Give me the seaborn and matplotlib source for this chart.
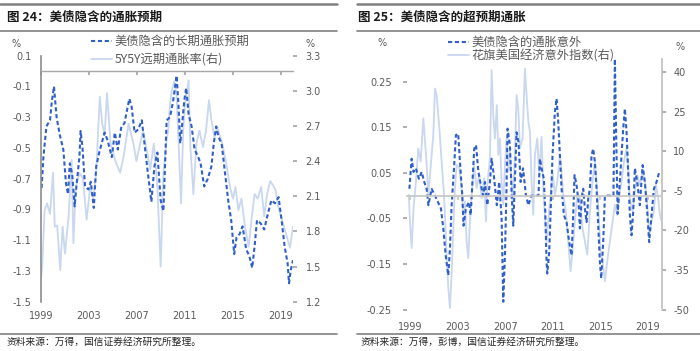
import matplotlib
matplotlib.use("Agg")
import matplotlib.pyplot as plt
import seaborn as sns
import pandas as pd
from matplotlib.lines import Line2D

# ---------------- data ----------------
# Chart 24: implied long-term inflation expectation (left) and 5Y5Y forward (right)
be_t = [1999.05, 1999.2, 1999.45, 1999.75, 1999.9, 2000.08, 2000.3, 2000.55, 2000.86, 2001.08,
        2001.25, 2001.4, 2001.6, 2001.8, 2001.95, 2002.2, 2002.3, 2002.45, 2002.67, 2002.95,
        2003.15, 2003.4, 2003.6, 2003.85, 2004.3, 2004.55, 2004.9, 2005.15, 2005.4, 2005.7,
        2005.95, 2006.36, 2006.55, 2006.8, 2007.1, 2007.4, 2007.65, 2007.9, 2008.2, 2008.45,
        2008.7, 2008.97, 2009.2, 2009.47, 2009.75, 2010.0, 2010.3, 2010.45, 2010.6, 2010.75,
        2010.94, 2011.1, 2011.3, 2011.55, 2011.8, 2012.1, 2012.3, 2012.6, 2012.9, 2013.2,
        2013.4, 2013.6, 2013.8, 2014.05, 2014.3, 2014.6, 2014.85, 2015.1, 2015.3, 2015.55,
        2015.8, 2016.1, 2016.35, 2016.6, 2016.8, 2017.0, 2017.3, 2017.6, 2017.9, 2018.2,
        2018.5, 2018.8, 2019.05, 2019.3, 2019.55, 2019.67, 2019.8, 2020.0]
be_v = [-0.76, -0.56, -0.36, -0.32, -0.20, -0.10, -0.30, -0.41, -0.51, -0.73,
        -0.80, -0.60, -0.67, -0.88, -0.75, -0.56, -0.39, -0.49, -0.75, -0.77,
        -0.72, -0.89, -0.62, -0.53, -0.40, -0.45, -0.56, -0.40, -0.51, -0.36,
        -0.34, -0.18, -0.23, -0.40, -0.38, -0.32, -0.49, -0.66, -0.85, -0.62,
        -0.53, -0.84, -0.91, -0.32, -0.30, -0.20, -0.03, -0.21, -0.47, -0.36,
        -0.19, -0.11, -0.28, -0.36, -0.51, -0.56, -0.60, -0.75, -0.70, -0.62,
        -0.47, -0.36, -0.43, -0.47, -0.64, -0.84, -0.97, -1.19, -1.08, -1.06,
        -1.01, -1.16, -1.20, -1.28, -1.14, -0.97, -0.99, -1.03, -0.93, -0.84,
        -0.86, -0.82, -0.97, -1.14, -1.25, -1.38, -1.30, -1.23]
fw_t = [1999.0, 1999.1, 1999.3, 1999.5, 1999.75, 2000.0, 2000.15, 2000.35, 2000.6, 2000.8,
        2001.0, 2001.3, 2001.55, 2001.7, 2001.9, 2002.2, 2002.5, 2002.8, 2003.1, 2003.35,
        2003.6, 2003.9, 2004.1, 2004.3, 2004.5, 2004.8, 2005.2, 2005.6, 2005.9, 2006.3,
        2006.7, 2006.95, 2007.2, 2007.5, 2007.8, 2008.1, 2008.4, 2008.7, 2008.97, 2009.2,
        2009.47, 2009.6, 2009.75, 2009.9, 2010.1, 2010.3, 2010.5, 2010.67, 2010.85, 2011.0,
        2011.3, 2011.45, 2011.7, 2011.95, 2012.2, 2012.5, 2012.75, 2013.0, 2013.2, 2013.45,
        2013.7, 2014.1, 2014.4, 2014.75, 2015.0, 2015.2, 2015.45, 2015.7, 2016.0, 2016.3,
        2016.55, 2016.8, 2017.05, 2017.35, 2017.6, 2017.85, 2018.1, 2018.3, 2018.55, 2018.75,
        2019.05, 2019.5, 2019.75, 2020.0]
fw_v = [1.40, 1.50, 1.98, 2.04, 1.95, 2.30, 1.84, 1.85, 1.47, 1.84,
        1.61, 1.93, 2.41, 1.70, 2.18, 2.30, 2.25, 1.90, 2.18, 2.08,
        2.30, 2.95, 2.72, 2.62, 2.98, 2.55, 2.40, 2.30, 2.45, 2.72,
        2.55, 2.40, 2.52, 2.66, 2.50, 2.33, 2.55, 2.18, 1.50, 2.30,
        2.58, 2.66, 2.89, 3.00, 3.08, 2.96, 2.47, 2.04, 2.66, 2.89,
        3.09, 2.52, 2.12, 2.55, 2.66, 2.52, 2.66, 2.92, 2.75, 2.60,
        2.69, 2.55, 2.40, 2.18, 2.08, 2.18, 1.98, 2.08, 1.84, 1.67,
        1.91, 2.12, 2.08, 2.18, 1.93, 2.12, 2.23, 2.20, 2.15, 2.02,
        1.91, 1.75, 1.66, 1.84]

# Chart 25: implied inflation surprise (left) and Citi US economic surprise index (right)
sp_t = [1998.95, 1999.14, 1999.3, 1999.5, 1999.75, 1999.98, 2000.2, 2000.4, 2000.55, 2000.82,
        2001.1, 2001.35, 2001.6, 2001.8, 2002.0, 2002.22, 2002.36, 2002.5, 2002.7, 2002.86,
        2003.05, 2003.2, 2003.4, 2003.5, 2003.7, 2003.95, 2004.1, 2004.4, 2004.55, 2004.75,
        2004.96, 2005.15, 2005.3, 2005.5, 2005.72, 2005.86, 2006.05, 2006.3, 2006.5, 2006.7,
        2006.84, 2006.98, 2007.1, 2007.2, 2007.4, 2007.55, 2007.68, 2007.96, 2008.12, 2008.3,
        2008.5, 2008.75, 2008.95, 2009.2, 2009.5, 2009.8, 2009.92, 2010.06, 2010.25, 2010.37,
        2010.48, 2010.54, 2010.7, 2010.82, 2010.98, 2011.18, 2011.32, 2011.46, 2011.6, 2011.74,
        2011.94, 2012.16, 2012.38, 2012.58, 2012.72, 2012.83, 2013.0, 2013.17, 2013.28, 2013.45,
        2013.56, 2013.7, 2013.84, 2013.98, 2014.12, 2014.26, 2014.4, 2014.54, 2014.68, 2014.82,
        2014.96, 2015.07, 2015.24, 2015.38, 2015.7, 2016.1, 2016.22, 2016.35, 2016.45, 2016.6,
        2016.92, 2017.06, 2017.2, 2017.34, 2017.48, 2017.62, 2017.76, 2017.9, 2018.1, 2018.32,
        2018.55, 2018.74, 2018.94, 2019.1, 2019.3, 2019.5, 2019.72, 2019.95]
sp_v = [0.015, 0.081, 0.052, 0.060, 0.037, 0.052, 0.030, 0.015, -0.021, 0.015,
        0.000, -0.014, -0.028, -0.072, -0.131, -0.175, -0.116, -0.021, 0.060, 0.133,
        0.136, 0.074, 0.000, -0.066, -0.028, -0.014, -0.043, 0.103, 0.111, 0.052,
        0.023, 0.000, 0.030, -0.021, 0.030, 0.081, 0.044, -0.021, 0.030, -0.050,
        -0.233, -0.131, 0.000, 0.147, 0.111, 0.000, -0.066, 0.139, 0.118, 0.030,
        0.060, 0.000, -0.021, 0.000, 0.000, 0.000, 0.081, 0.060, 0.037, -0.036,
        -0.146, -0.171, -0.124, -0.036, 0.089, 0.184, 0.213, 0.162, 0.089, 0.015,
        -0.043, -0.058, -0.102, -0.131, -0.043, 0.045, 0.023, -0.014, -0.072, 0.000,
        0.015, -0.028, -0.058, -0.007, 0.015, 0.089, 0.103, 0.074, 0.015, -0.065,
        -0.146, -0.182, -0.102, 0.000, 0.000, 0.000, 0.300, 0.100, -0.040, 0.015,
        0.147, 0.191, 0.140, 0.052, -0.043, -0.087, -0.036, 0.060, 0.030, -0.021,
        0.067, 0.030, -0.036, -0.102, -0.043, 0.015, 0.030, 0.052]
cs_t = [1998.9, 1999.0, 1999.14, 1999.3, 1999.5, 1999.7, 1999.9, 2000.12, 2000.35, 2000.55,
        2000.82, 2000.96, 2001.1, 2001.24, 2001.47, 2001.66, 2001.86, 2002.08, 2002.22, 2002.36,
        2002.5, 2002.64, 2002.78, 2002.92, 2003.15, 2003.34, 2003.48, 2003.62, 2003.76, 2003.9,
        2004.04, 2004.18, 2004.38, 2004.6, 2004.83, 2005.02, 2005.22, 2005.39, 2005.5, 2005.72,
        2005.86, 2006.0, 2006.14, 2006.3, 2006.42, 2006.56, 2006.7, 2006.84, 2006.98, 2007.12,
        2007.26, 2007.4, 2007.62, 2007.82, 2007.96, 2008.1, 2008.24, 2008.46, 2008.66, 2008.8,
        2008.95, 2009.08, 2009.22, 2009.36, 2009.5, 2009.7, 2009.86, 2010.06, 2010.2, 2010.34,
        2010.48, 2010.62, 2010.82, 2010.98, 2011.18, 2011.38, 2011.6, 2011.74, 2011.88, 2012.1,
        2012.3, 2012.5, 2012.66, 2012.86, 2013.06, 2013.28, 2013.5, 2013.7, 2013.9, 2014.12,
        2014.34, 2014.54, 2014.68, 2014.82, 2015.02, 2015.19, 2015.38, 2015.58, 2015.8, 2016.03,
        2016.22, 2016.42, 2016.59, 2016.78, 2016.98, 2017.2, 2017.34, 2017.48, 2017.7, 2017.9,
        2018.1, 2018.32, 2018.55, 2018.74, 2018.94, 2019.1, 2019.3, 2019.5, 2019.67, 2019.86,
        2020.0, 2020.15]
cs_v = [-6.5, -16.6, -26.7, -11.6, -1.5, 11.1, 6.1, 22.5, 8.6, -6.5,
        8.6, 16.2, 33.8, 31.3, 18.7, 6.1, -6.5, -29.2, -41.8, -49.4,
        -36.8, -19.1, -4.0, 4.8, 3.6, -4.0, -14.1, -9.0, -24.2, -30.5,
        -16.6, -6.5, 4.8, -4.0, 1.0, -7.8, -0.2, -16.6, -2.7, 7.3,
        40.8, 23.7, 14.9, 27.5, 8.6, 14.9, -1.5, -10.3, 4.8, 14.9,
        2.3, 11.1, -10.3, 8.6, 31.3, 26.3, 11.1, 14.9, 41.4, 31.3,
        21.2, 17.4, -1.5, -14.1, 8.6, 14.9, 1.0, 15.5, -4.0, -14.1,
        -24.2, -16.6, -6.5, 2.3, -6.5, -1.5, 8.6, 2.3, -6.5, -12.8,
        -24.2, -35.5, -28.0, -16.6, -6.5, -7.8, -19.1, -24.2, -29.2, -12.8,
        -1.5, 6.1, -1.5, -10.3, -28.0, -31.7, -39.3, -31.7, -24.2, -16.6,
        -10.3, -14.1, -6.5, -1.5, 6.1, 11.1, 3.6, -7.8, -12.8, -5.3,
        1.0, -2.7, 2.3, -1.5, -10.3, -21.7, -16.6, -12.8, -2.7, -7.8,
        -14.1, -16.6]

year_ticks = [1999, 2003, 2007, 2011, 2015, 2019]
l1_ticks = [0.1, -0.1, -0.3, -0.5, -0.7, -0.9, -1.1, -1.3, -1.5]
r1_ticks = [1.2, 1.5, 1.8, 2.1, 2.4, 2.7, 3.0, 3.3]
l2_ticks = [-0.25, -0.15, -0.05, 0.05, 0.15, 0.25]
r2_ticks = [-50, -35, -20, -5, 10, 25, 40]

title1 = "图 24：美债隐含的通胀预期"
title2 = "图 25：美债隐含的超预期通胀"
lab_be = "美债隐含的长期通胀预期"
lab_fw = "5Y5Y远期通胀率(右)"
lab_sp = "美债隐含的通胀意外"
lab_cs = "花旗美国经济意外指数(右)"
src1 = "资料来源：万得，国信证券经济研究所整理。"
src2 = "资料来源：万得，彭博，国信证券经济研究所整理。"

# ---------------- style ----------------
sns.set_theme(style="white")
plt.rcParams["font.family"] = ["DejaVu Sans", "Noto Sans CJK SC"]
CJK = ["Noto Sans CJK SC", "DejaVu Sans"]
DARK = "#2F5FC9"
LIGHT = "#C9D7EF"
TXT = "#595959"
AX = "#A6A6A6"
W, H = 700, 351
fs_tick = 7

fig = plt.figure(figsize=(7.0, 3.51), dpi=100)
fig.patch.set_facecolor("white")


def fx(px):
    return px / W


def fy(py):
    return 1 - py / H


dash = (0, (2.0, 1.3))

# ---------------- chart 24 ----------------
ax1 = fig.add_axes([fx(41), fy(301.7), fx(293 - 41), (301.7 - 55.7) / H])
ax1b = ax1.twinx()
df_be = pd.DataFrame({"t": be_t, "v": be_v})
df_fw = pd.DataFrame({"t": fw_t, "v": fw_v})
sns.lineplot(data=df_fw, x="t", y="v", ax=ax1b, color=LIGHT, lw=1.3, sort=False,
             estimator=None, legend=False)
sns.lineplot(data=df_be, x="t", y="v", ax=ax1, color=DARK, lw=1.5, sort=False,
             estimator=None, legend=False, linestyle=dash)
ax1.set_zorder(ax1b.get_zorder() + 1)
ax1.patch.set_visible(False)
ax1.set_xlim(1999.0, 2020.0)
ax1.set_ylim(-1.5, 0.1)
ax1b.set_ylim(1.2, 3.3)
ax1.set_yticks(l1_ticks)
ax1.set_yticklabels([f"{v:.1f}" for v in l1_ticks])
ax1b.set_yticks(r1_ticks)
ax1b.set_yticklabels([f"{v:.1f}" for v in r1_ticks])
for s in ["top", "right"]:
    ax1.spines[s].set_visible(False)
for s in ["top", "left", "bottom", "right"]:
    ax1b.spines[s].set_visible(False)
ax1.spines["left"].set_color("#8C8C8C")
ax1.spines["left"].set_linewidth(1.2)
ax1.spines["bottom"].set_position(("data", 0))
ax1.spines["bottom"].set_color(AX)
ax1.spines["bottom"].set_linewidth(1.0)
ax1.set_xticks(year_ticks)
ax1.tick_params(axis="x", which="both", direction="out", length=3, color=AX,
                labelbottom=False, bottom=True)
ax1.tick_params(axis="y", length=0, labelsize=fs_tick, labelcolor=TXT, pad=7)
ax1b.tick_params(axis="y", direction="out", length=3, color=AX, labelsize=fs_tick,
                 labelcolor=TXT, pad=6, right=True)
ax1.set_xlabel("")
ax1.set_ylabel("")
ax1b.set_ylabel("")
sec1 = ax1.secondary_xaxis("bottom")
sec1.set_xticks(year_ticks)
sec1.set_xticklabels([str(y) for y in year_ticks])
sec1.tick_params(length=0, labelsize=fs_tick, labelcolor=TXT, pad=7)
sec1.spines["bottom"].set_visible(False)
ax1.grid(False)
ax1b.grid(False)

h1 = [Line2D([], [], color=DARK, lw=1.5, linestyle=dash),
      Line2D([], [], color=LIGHT, lw=1.3)]
fig.legend(h1, [lab_be, lab_fw], loc="upper left", bbox_to_anchor=(fx(91), fy(35)),
           bbox_transform=fig.transFigure, frameon=False, borderpad=0, borderaxespad=0,
           handlelength=1.7, handletextpad=0.25, labelspacing=0.4,
           prop={"family": CJK, "size": 8.8}, labelcolor=TXT)

# ---------------- chart 25 ----------------
ax2 = fig.add_axes([fx(407), fy(309.5), fx(662 - 407), (309.5 - 59) / H])
ax2b = ax2.twinx()
df_sp = pd.DataFrame({"t": sp_t, "v": sp_v})
df_cs = pd.DataFrame({"t": cs_t, "v": cs_v})
sns.lineplot(data=df_cs, x="t", y="v", ax=ax2b, color=LIGHT, lw=1.3, sort=False,
             estimator=None, legend=False)
sns.lineplot(data=df_sp, x="t", y="v", ax=ax2, color=DARK, lw=1.5, sort=False,
             estimator=None, legend=False, linestyle=dash)
ax2.set_zorder(ax2b.get_zorder() + 1)
ax2.patch.set_visible(False)
ax2.set_xlim(1998.75, 2020.18)
ax2.set_ylim(-0.25, 0.30)
ax2b.set_ylim(-50, 45)
ax2.set_yticks(l2_ticks)
ax2.set_yticklabels([f"{v:.2f}" for v in l2_ticks])
ax2b.set_yticks(r2_ticks)
ax2b.set_yticklabels([str(v) for v in r2_ticks])
for s in ["top", "right", "left"]:
    ax2.spines[s].set_visible(False)
for s in ["top", "left", "bottom"]:
    ax2b.spines[s].set_visible(False)
ax2b.spines["right"].set_color("#BFBFBF")
ax2b.spines["right"].set_linewidth(1.2)
ax2.spines["bottom"].set_position(("data", 0))
ax2.spines["bottom"].set_color("#C8C8C8")
ax2.spines["bottom"].set_linewidth(1.3)
ax2.set_xticks(year_ticks)
ax2.tick_params(axis="x", direction="out", length=3, color="#C8C8C8",
                labelbottom=False, bottom=True)
ax2.tick_params(axis="y", direction="out", length=3, color=AX, labelsize=fs_tick,
                labelcolor=TXT, pad=8, left=True)
ax2b.tick_params(axis="y", direction="out", length=3, color=AX, labelsize=fs_tick,
                 labelcolor=TXT, pad=5, right=True)
ax2.set_xlabel("")
ax2.set_ylabel("")
ax2b.set_ylabel("")
sec2 = ax2.secondary_xaxis("bottom")
sec2.set_xticks(year_ticks)
sec2.set_xticklabels([str(y) for y in year_ticks])
sec2.tick_params(length=0, labelsize=fs_tick, labelcolor=TXT, pad=9)
sec2.spines["bottom"].set_visible(False)
ax2.grid(False)
ax2b.grid(False)

h2 = [Line2D([], [], color=DARK, lw=1.5, linestyle=dash),
      Line2D([], [], color=LIGHT, lw=1.3)]
fig.legend(h2, [lab_sp, lab_cs], loc="upper left", bbox_to_anchor=(fx(448), fy(36)),
           bbox_transform=fig.transFigure, frameon=False, borderpad=0, borderaxespad=0,
           handlelength=1.7, handletextpad=0.25, labelspacing=0.05,
           prop={"family": CJK, "size": 8.8}, labelcolor=TXT)

# ---------------- titles, units, sources, rules ----------------
fig.text(fx(7), fy(17), title1, family=CJK, fontsize=9, weight="bold", color="#1A1A1A",
         va="center", ha="left")
fig.text(fx(358), fy(17), title2, family=CJK, fontsize=9, weight="bold", color="#1A1A1A",
         va="center", ha="left")
fig.text(fx(16), fy(44), "%", fontsize=fs_tick, color=TXT, va="center", ha="center")
fig.text(fx(310), fy(44), "%", fontsize=fs_tick, color=TXT, va="center", ha="center")
fig.text(fx(382), fy(43), "%", fontsize=fs_tick, color=TXT, va="center", ha="center")
fig.text(fx(680), fy(47), "%", fontsize=fs_tick, color=TXT, va="center", ha="center")
fig.text(fx(7), fy(342), src1, family=CJK, fontsize=7.0, color="#262626", va="center",
         ha="left")
fig.text(fx(361), fy(342), src2, family=CJK, fontsize=7.0, color="#262626", va="center",
         ha="left")

for (x0, x1) in [(0, 337), (357, 700)]:
    fig.add_artist(Line2D([fx(x0), fx(x1)], [fy(4), fy(4)], color="#808080", lw=1.8,
                          transform=fig.transFigure))
    fig.add_artist(Line2D([fx(x0), fx(x1)], [fy(30.5), fy(30.5)], color="#808080", lw=1.2,
                          transform=fig.transFigure))
    fig.add_artist(Line2D([fx(x0), fx(x1)], [fy(334), fy(334)], color="#808080", lw=1.2,
                          transform=fig.transFigure))

fig.savefig("out.png", dpi=100, facecolor="white")
